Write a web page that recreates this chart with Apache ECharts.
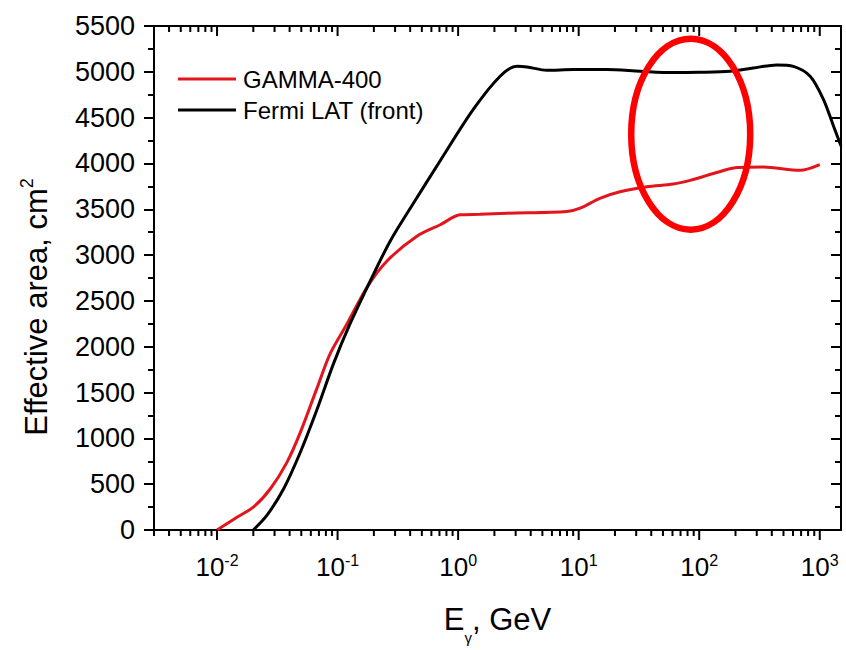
<!DOCTYPE html>
<html>
<head>
<meta charset="utf-8">
<title>Effective area</title>
<script src="https://cdn.jsdelivr.net/npm/echarts@6/dist/echarts.min.js"></script>
<style>
  html, body { margin: 0; padding: 0; background: #fff; }
  #chart { width: 846px; height: 650px; }
</style>
</head>
<body>
<div id="chart"></div>
<script>
// GAMMA-400 effective area vs photon energy (GeV, cm^2)
const gammaEnergy = [0.01, 0.0141, 0.0201, 0.0277, 0.038, 0.049, 0.0675, 0.087, 0.12, 0.175, 0.257, 0.455, 0.71, 1.04, 1.52, 2.54, 7.98, 10.3, 15, 22, 36.8, 61, 84, 131, 205, 341, 687, 1000];
const gammaArea   = [0, 126, 252, 450, 738, 1062, 1548, 1927, 2251, 2647, 2936, 3206, 3331, 3439, 3445, 3457, 3476, 3512, 3620, 3692, 3746, 3775, 3815, 3890, 3955, 3962, 3925, 3987];

// Fermi LAT (front) effective area
const fermiEnergy = [0.02, 0.026, 0.0357, 0.049, 0.0675, 0.0927, 0.127, 0.187, 0.273, 0.427, 0.71, 1.34, 2.23, 3.07, 3.72, 5.44, 9.06, 17.1, 32.4, 61, 100, 180, 281, 440, 604, 832, 1072, 1297, 1500];
const fermiArea   = [0, 162, 450, 846, 1315, 1818, 2251, 2720, 3152, 3568, 4030, 4592, 4952, 5060, 5053, 5017, 5024, 5024, 5006, 4992, 4995, 5006, 5042, 5075, 5060, 4952, 4700, 4412, 4190];

const seriesNames = ['GAMMA-400', 'Fermi LAT (front)'];
const xMin = 0.003, xMax = 1500;
const yMin = 0, yMax = 5500, yStep = 500;
// highlighted region (energy, area) for the ellipse marker
const markCenter = [85, 4320];

const FONT = '"Liberation Sans", Arial, sans-serif';
const RED = '#e4141c';

function pairs(xs, ys) { return xs.map((x, i) => [x, ys[i]]); }

// log-axis tick positions: 1..9 x 10^k inside the range
const xTicks = [];
for (let k = -3; k <= 3; k++) {
  for (let m = 1; m <= 9; m++) {
    const v = m * Math.pow(10, k);
    if (v >= xMin * 0.9999 && v <= xMax * 1.0001) xTicks.push([v, m === 1 ? 10 : 6]);
  }
}

function isPow10(v) {
  const l = Math.log10(v);
  return Math.abs(l - Math.round(l)) < 1e-6;
}

const chart = echarts.init(document.getElementById('chart'), null, { renderer: 'svg' });

const option = {
  animation: false,
  backgroundColor: '#fff',
  grid: {
    left: 154, right: 5, top: 26, bottom: 115,
    show: true, borderColor: '#000', borderWidth: 2, backgroundColor: 'transparent'
  },
  legend: {
    data: seriesNames,
    orient: 'vertical',
    left: 178, top: 67, padding: 0,
    icon: 'rect',
    itemWidth: 58, itemHeight: 3, itemGap: 7,
    textStyle: { fontFamily: FONT, fontSize: 24, color: '#000', padding: [0, 0, 0, 2] },
    selectedMode: false
  },
  xAxis: {
    type: 'log', logBase: 10, min: xMin, max: xMax,
    axisLine: { show: true, lineStyle: { color: '#000', width: 2 } },
    axisTick: { show: false },
    splitLine: { show: false },
    axisLabel: {
      margin: 22,
      showMinLabel: false, showMaxLabel: false,
      formatter: function (v) {
        if (!isPow10(v)) return '';
        return '{b|10}{s|' + Math.round(Math.log10(v)) + '}';
      },
      rich: {
        b: { fontFamily: FONT, fontSize: 26, lineHeight: 30, color: '#000' },
        s: { fontFamily: FONT, fontSize: 16, lineHeight: 16, verticalAlign: 'top', color: '#000' }
      }
    },
    name: '{e|E}{g|γ}{t|, GeV}',
    nameLocation: 'middle',
    nameGap: 63,
    nameTextStyle: {
      rich: {
        e: { fontFamily: FONT, fontSize: 31, lineHeight: 52, color: '#000' },
        g: { fontFamily: FONT, fontSize: 15, lineHeight: 15, verticalAlign: 'bottom', color: '#000' },
        t: { fontFamily: FONT, fontSize: 31, lineHeight: 52, color: '#000' }
      }
    }
  },
  yAxis: [
    {
      type: 'value', min: yMin, max: yMax, interval: yStep,
      axisLine: { show: true, lineStyle: { color: '#000', width: 2 } },
      axisTick: { show: true, length: 10, lineStyle: { color: '#000', width: 2 } },
      minorTick: { show: true, splitNumber: 2, length: 6, lineStyle: { color: '#000', width: 2 } },
      splitLine: { show: false },
      axisLabel: {
        margin: 19, fontFamily: FONT, fontSize: 27, color: '#000',
        formatter: function (v) { return String(v); }
      }
    },
    {
      type: 'value', min: yMin, max: yMax, interval: yStep, position: 'right',
      axisLine: { show: true, lineStyle: { color: '#000', width: 2 } },
      axisTick: { show: true, inside: true, length: 10, lineStyle: { color: '#000', width: 2 } },
      minorTick: { show: true, splitNumber: 2, length: 6, lineStyle: { color: '#000', width: 2 } },
      splitLine: { show: false },
      axisLabel: { show: false }
    }
  ],
  series: [
    {
      name: seriesNames[0], type: 'line', data: pairs(gammaEnergy, gammaArea),
      symbol: 'none', smooth: 0.3, color: RED,
      lineStyle: { color: RED, width: 3 }, z: 3
    },
    {
      name: seriesNames[1], type: 'line', data: pairs(fermiEnergy, fermiArea),
      symbol: 'none', smooth: 0.3, color: '#000',
      lineStyle: { color: '#000', width: 3 }, z: 4
    },
    {
      // log ticks on the bottom (outward) and top (inward) edges
      type: 'custom', data: xTicks, silent: true, clip: false, z: 10,
      renderItem: function (params, api) {
        const e = api.value(0), len = api.value(1);
        const b = api.coord([e, yMin]);
        const t = api.coord([e, yMax]);
        const st = { stroke: '#000', lineWidth: 2 };
        return {
          type: 'group',
          children: [
            { type: 'line', shape: { x1: b[0], y1: b[1], x2: b[0], y2: b[1] + len }, style: st },
            { type: 'line', shape: { x1: t[0], y1: t[1], x2: t[0], y2: t[1] + len }, style: st }
          ]
        };
      }
    }
  ],
  graphic: [
    {
      type: 'text', x: 36, y: 307, rotation: Math.PI / 2,
      style: {
        text: '{a|Effective area, cm}{s|2}',
        align: 'center', verticalAlign: 'middle',
        rich: {
          a: { fontFamily: FONT, fontSize: 31, lineHeight: 36, fill: '#000' },
          s: { fontFamily: FONT, fontSize: 18, lineHeight: 18, verticalAlign: 'top', fill: '#000' }
        }
      }
    }
  ]
};

chart.setOption(option);

// ellipse marking the highlighted energy range
const c = chart.convertToPixel({ xAxisIndex: 0, yAxisIndex: 0 }, markCenter);
chart.setOption({
  graphic: [
    option.graphic[0],
    {
      type: 'ellipse', z: 20, silent: true,
      shape: { cx: c[0], cy: c[1], rx: 59.5, ry: 95.5 },
      style: { fill: 'none', stroke: '#ff0000', lineWidth: 6.5 }
    }
  ]
});
</script>
</body>
</html>
